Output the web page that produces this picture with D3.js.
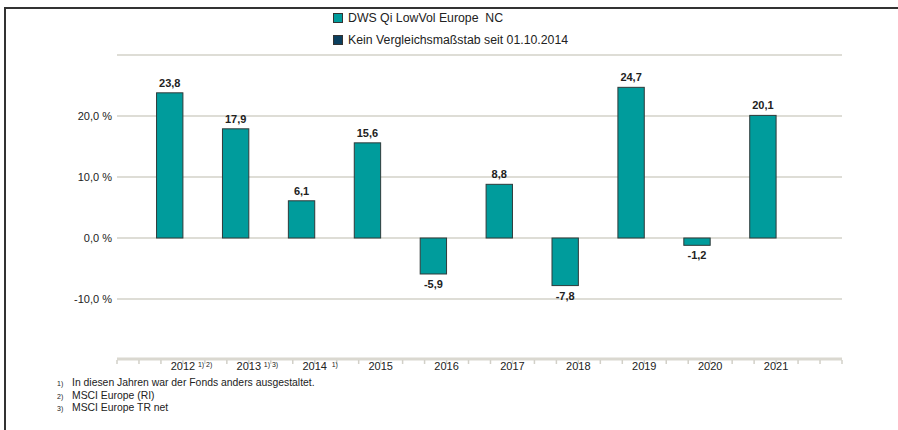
<!DOCTYPE html>
<meta charset="UTF-8">
<script src="https://d3js.org/d3.v7.min.js"></script>
<style>
  body { margin: 0; background: #fff; }
  text { font-family: "Liberation Sans", Arial, sans-serif; fill: #222; }
</style>
<div id="chart"></div>
<script>

  // Data
  const years = ["2012", "2013", "2014", "2015", "2016", "2017", "2018", "2019", "2020", "2021"];
  const yearNotes = ["1) 2)", "1) 3)", "1)", "", "", "", "", "", "", ""];
  const fundValues = [23.8, 17.9, 6.1, 15.6, -5.9, 8.8, -7.8, 24.7, -1.2, 20.1];
  const yTicks = [-20, -10, 0, 10, 20, 30];
  const yLabelTicks = [-10, 0, 10, 20];
  const legendItems = ["DWS Qi LowVol Europe  NC", "Kein Vergleichsmaßstab seit 01.10.2014"];
  const legendColors = ["#009c9c", "#0c3f5e"];
  const footnotes = ["In diesen Jahren war der Fonds anders ausgestaltet.", "MSCI Europe (RI)", "MSCI Europe TR net"];

  const W = 898, H = 430;
  const plot = {left: 117, right: 842, top: 55, bottom: 360};

  const svg = d3.select("#chart").append("svg")
      .attr("width", W)
      .attr("height", H);

  // frame
  svg.append("line").attr("x1", 4).attr("x2", W).attr("y1", 8).attr("y2", 8)
      .attr("stroke", "#333").attr("stroke-width", 2);
  svg.append("line").attr("x1", 5).attr("x2", 5).attr("y1", 8).attr("y2", H)
      .attr("stroke", "#333").attr("stroke-width", 2);

  // scales (one extra empty slot at the end)
  const x = d3.scaleBand()
      .domain(years.concat(["_"]))
      .range([plot.left, plot.right])
      .padding(0);
  const bw = x.bandwidth();

  const y = d3.scaleLinear()
      .domain([-20, 30])
      .range([plot.bottom, plot.top]);

  const fmt = d => d3.format(".1f")(d).replace(".", ",").replace("−", "-");

  // gridlines
  svg.append("g")
    .selectAll("line")
    .data(yTicks.filter(d => d !== -20))
    .join("line")
      .attr("x1", plot.left)
      .attr("x2", plot.right)
      .attr("y1", d => y(d))
      .attr("y2", d => y(d))
      .attr("stroke", "#deddd6")
      .attr("stroke-width", 2);

  // y labels
  svg.append("g")
    .selectAll("text")
    .data(yLabelTicks)
    .join("text")
      .attr("x", 112)
      .attr("y", d => y(d) + 4)
      .attr("text-anchor", "end")
      .style("font-size", "11px")
      .text(d => fmt(d) + " %");

  // x axis line + minor ticks
  svg.append("line")
      .attr("x1", plot.left).attr("x2", plot.right)
      .attr("y1", plot.bottom - 1).attr("y2", plot.bottom - 1)
      .attr("stroke", "#dad8d0").attr("stroke-width", 3);

  const minor = d3.range(0, 34).map(i => plot.left + i * bw / 3);
  svg.append("g")
    .selectAll("line")
    .data(minor)
    .join("line")
      .attr("x1", d => d).attr("x2", d => d)
      .attr("y1", plot.bottom).attr("y2", plot.bottom + 4)
      .attr("stroke", "#d2d0c8").attr("stroke-width", 1.5);

  // x labels
  svg.append("g")
    .selectAll("text")
    .data(years)
    .join("text")
      .attr("x", d => x(d) + bw)
      .attr("y", plot.bottom + 10)
      .attr("text-anchor", "middle")
      .style("font-size", "11px")
      .text(d => d);

  svg.append("g")
    .selectAll("text")
    .data(years)
    .join("text")
      .attr("x", (d, i) => x(d) + bw + (i === 2 ? 17 : 15))
      .attr("y", plot.bottom + 7)
      .style("font-size", "7px")
      .style("white-space", "pre")
      .text((d, i) => yearNotes[i]);

  // bars
  const barW = bw * 0.4;
  svg.append("g")
    .selectAll("rect")
    .data(fundValues)
    .join("rect")
      .attr("x", (d, i) => x(years[i]) + bw - barW)
      .attr("y", d => y(Math.max(0, d)))
      .attr("width", barW)
      .attr("height", d => Math.abs(y(d) - y(0)))
      .attr("fill", "#009c9c")
      .attr("stroke", "#2f3a3a")
      .attr("stroke-width", 1);

  // value labels
  svg.append("g")
    .selectAll("text")
    .data(fundValues)
    .join("text")
      .attr("x", (d, i) => x(years[i]) + bw - barW / 2)
      .attr("y", d => d >= 0 ? y(d) - 6 : y(d) + 14)
      .attr("text-anchor", "middle")
      .style("font-size", "11px")
      .style("font-weight", "bold")
      .text(d => fmt(d));

  // legend
  const legend = svg.append("g").attr("transform", "translate(333, 13)");
  legend.selectAll("rect")
    .data(legendItems)
    .join("rect")
      .attr("x", 0.5)
      .attr("y", (d, i) => i * 22 + 0.5)
      .attr("width", 9)
      .attr("height", 9)
      .attr("fill", (d, i) => legendColors[i])
      .attr("stroke", "#333");
  legend.selectAll("text")
    .data(legendItems)
    .join("text")
      .attr("x", 15)
      .attr("y", (d, i) => i * 22 + 9)
      .style("font-size", "12.3px")
      .style("white-space", "pre")
      .text(d => d);

  // footnotes
  const fn = svg.append("g").attr("transform", "translate(57, 386)");
  fn.selectAll("text.num")
    .data(footnotes)
    .join("text")
      .attr("class", "num")
      .attr("x", 0)
      .attr("y", (d, i) => i * 12.5)
      .style("font-size", "7px")
      .text((d, i) => (i + 1) + ")");
  fn.selectAll("text.note")
    .data(footnotes)
    .join("text")
      .attr("class", "note")
      .attr("x", 15)
      .attr("y", (d, i) => i * 12.5)
      .style("font-size", "10.4px")
      .text(d => d);

</script>
